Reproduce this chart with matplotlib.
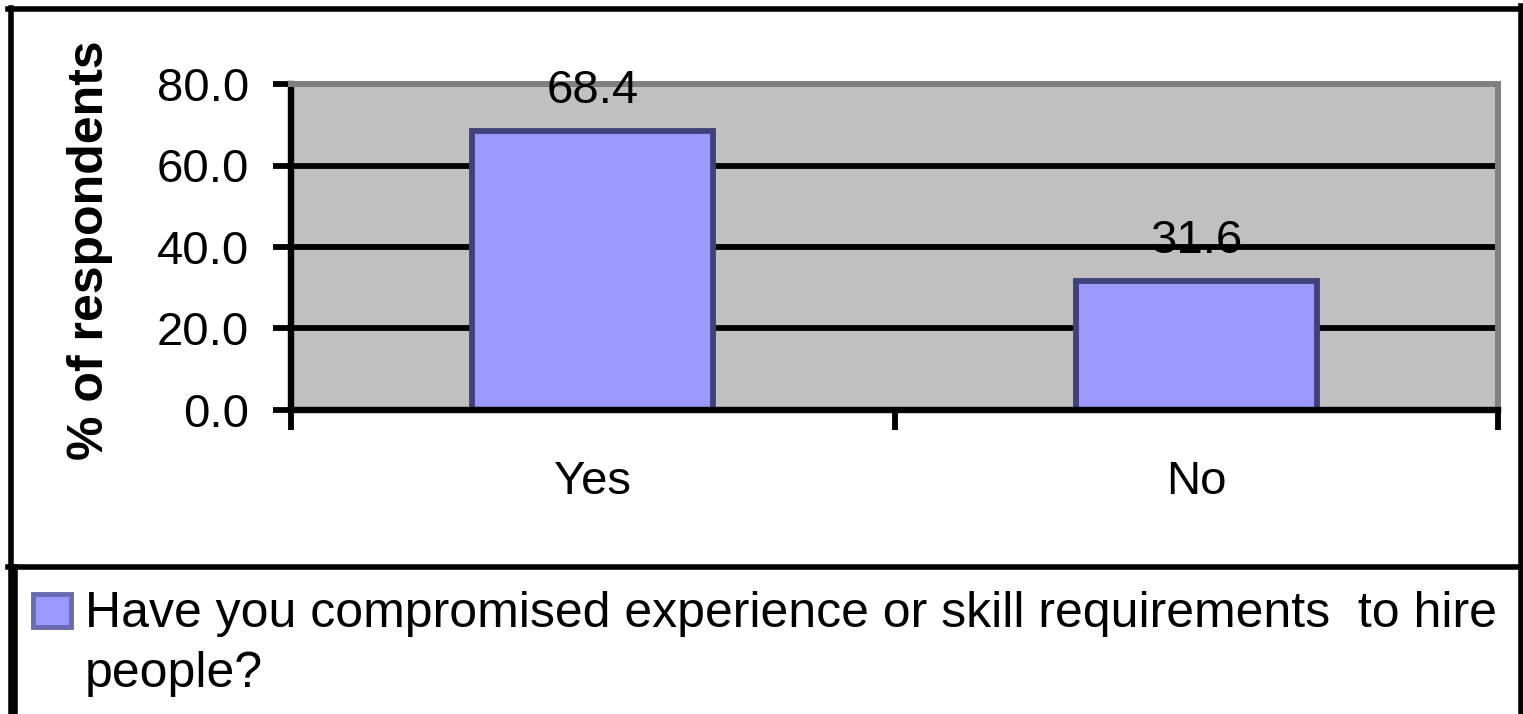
import matplotlib
matplotlib.use("Agg")
import matplotlib.pyplot as plt
from matplotlib.patches import Rectangle
from matplotlib.lines import Line2D

# data
categories = ["Yes", "No"]
values = [68.4, 31.6]
y_ticks = [0, 20, 40, 60, 80]
y_label = "% of respondents"
legend_lines = ["Have you compromised experience or skill requirements  to hire",
                "people?"]

W, H = 1523, 714
plt.rcParams["font.family"] = ["Liberation Sans", "DejaVu Sans"]
FS = 34

fig = plt.figure(figsize=(W / 100, H / 100), dpi=100)

def fx(px):
    return px / W

def fy(py):
    return 1 - py / H

# plot area (pixel positions of the frame)
left, right, top, bottom = 291, 1498, 84, 410
ax = fig.add_axes([fx(left), fy(bottom), fx(right - left), (bottom - top) / H])
ax.set_facecolor("#C0C0C0")

x = [i + 0.5 for i in range(len(categories))]
bars = ax.bar(x, values, width=0.40, color="#9999FF", edgecolor="#40407A",
              linewidth=4.2, zorder=2)
ax.bar_label(bars, labels=["%.1f" % v for v in values], padding=13, fontsize=FS)

ax.set_xlim(0, len(categories))
ax.set_ylim(0, 80)
ax.set_yticks(y_ticks)
ax.set_yticklabels(["%.1f" % t for t in y_ticks])
ax.set_xticks(range(len(categories) + 1))
ax.set_xticklabels([])
ax.set_xticks(x, minor=True)
ax.set_xticklabels(categories, minor=True)

ax.grid(axis="y", color="black", linewidth=4.2)
ax.set_axisbelow(True)

ax.tick_params(axis="y", direction="out", length=13, width=4.2, pad=17,
               labelsize=FS, color="black")
ax.tick_params(axis="x", which="major", direction="out", length=14.5, width=4.2)
ax.tick_params(axis="x", which="minor", length=0, pad=36, labelsize=FS)

for side in ["left", "bottom"]:
    ax.spines[side].set_color("black")
    ax.spines[side].set_linewidth(4.6)
for side in ["top", "right"]:
    ax.spines[side].set_color("#808080")
    ax.spines[side].set_linewidth(4.3)

# axis title is bold, as in the spreadsheet default
ax.set_ylabel(y_label, fontsize=36, fontweight="bold", va="center")
ax.yaxis.set_label_coords((90 - left) / (right - left), (bottom - 250) / (bottom - top))

# outer chart frame
lw = 4.0
fig.add_artist(Line2D([fx(11), fx(11)], [fy(8), fy(H + 10)], color="black", lw=lw))
fig.add_artist(Line2D([fx(8), fx(1521)], [fy(8.5), fy(8.5)], color="black", lw=lw))
fig.add_artist(Line2D([fx(1521), fx(1521)], [fy(6), fy(H + 10)], color="black", lw=lw))

# legend box
fig.add_artist(Line2D([fx(15), fx(15)], [fy(567), fy(H + 10)], color="black", lw=lw))
fig.add_artist(Line2D([fx(8), fx(1523)], [fy(567), fy(567)], color="black", lw=lw))
fig.add_artist(Rectangle((fx(33), fy(627)), fx(38), 33 / H, facecolor="#9999FF",
                         edgecolor="#6A6AB0", linewidth=3.5))
fig.text(fx(85), fy(627), legend_lines[0], fontsize=36, va="baseline", ha="left")
fig.text(fx(85), fy(687), legend_lines[1], fontsize=36, va="baseline", ha="left")

fig.savefig("out.png", dpi=100)
